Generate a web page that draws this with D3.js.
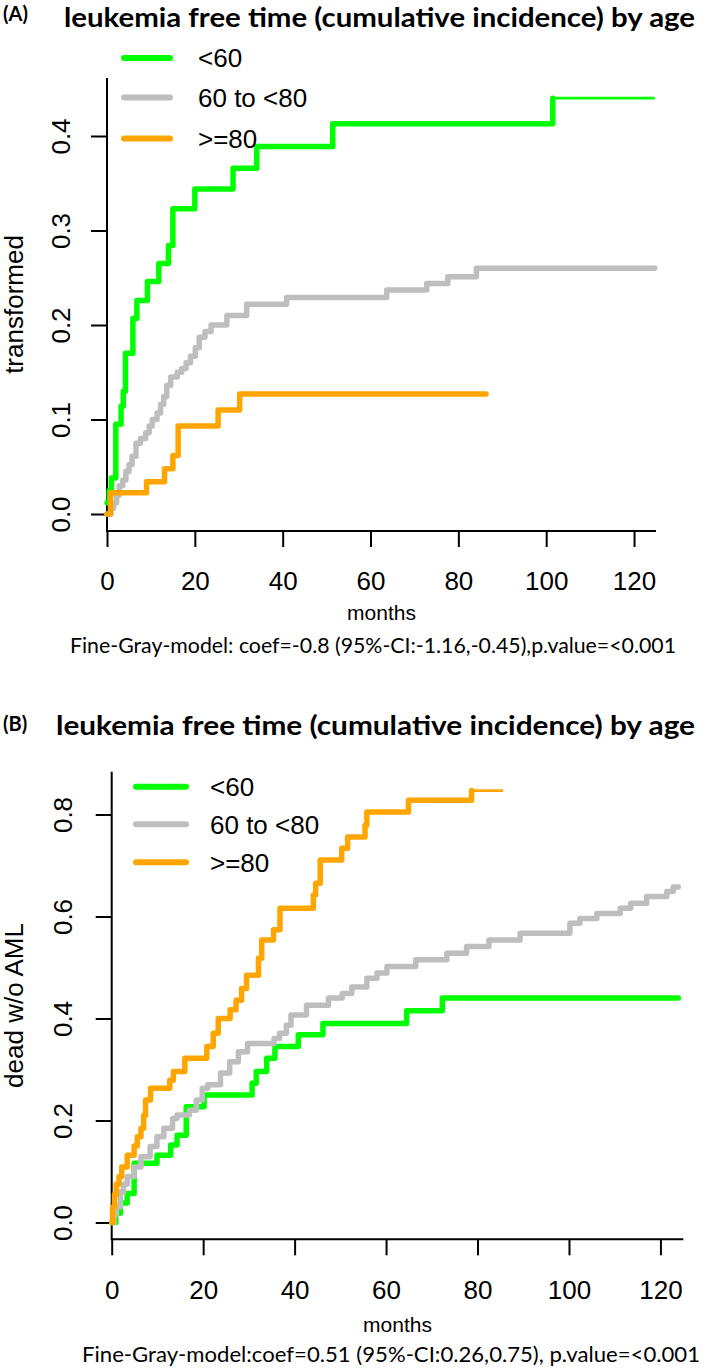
<!DOCTYPE html>
<html><head><meta charset="utf-8">
<script src="https://cdn.jsdelivr.net/npm/d3@7"></script>
<style>html,body{margin:0;padding:0;background:#fff;} svg{display:block}</style>
</head><body><svg id="c" width="709" height="1368"></svg>
<script>
// ---------- data ----------
const groups = ["<60", "60 to <80", ">=80"];
const colors = ["#00ff00", "#bebebe", "#ffa500"];
const xTicks = [0, 20, 40, 60, 80, 100, 120];
const yTicksA = [0, 0.1, 0.2, 0.3, 0.4];
const yTicksB = [0, 0.2, 0.4, 0.6, 0.8];

// Panel A: [month, cumulative incidence] at each step
const stepsA_lt60 = [[0,0.012],[0.5,0.025],[1.0,0.038],[2.0,0.095],[3.2,0.114],[3.7,0.13],[4.2,0.17],[5.9,0.207],[6.8,0.226],[9.2,0.246],[11.8,0.265],[14.0,0.284],[15.0,0.323],[20.0,0.344],[28.7,0.366],[34.1,0.389],[51.4,0.413],[101.5,0.44]];
const stepsA_60to80 = [[0,0],[0.9,0.006],[1.5,0.012],[2.2,0.02],[2.8,0.03],[3.6,0.036],[4.3,0.045],[5.0,0.052],[5.7,0.061],[6.6,0.075],[7.6,0.08],[8.8,0.086],[9.6,0.093],[10.3,0.1],[11.4,0.107],[12.2,0.116],[12.9,0.124],[13.6,0.136],[14.5,0.145],[16.0,0.15],[17.0,0.154],[18.0,0.16],[19.0,0.167],[20.1,0.176],[21.0,0.187],[22.3,0.193],[23.7,0.2],[27.3,0.21],[31.8,0.222],[40.9,0.229],[63.7,0.237],[72.8,0.244],[77.6,0.251],[84.1,0.26]];
const stepsA_ge80 = [[0,0],[0.8,0.0225],[9.0,0.034],[13.1,0.048],[15.0,0.062],[16.2,0.093],[25.3,0.11],[30.2,0.127]];
const endA = [124.7, 124.7, 86.3];
const thinTailA = [true, false, false];

// Panel B
const stepsB_lt60 = [[0,0],[0.9,0.018],[1.9,0.038],[3.4,0.057],[4.9,0.116],[9.9,0.132],[12.9,0.152],[14.3,0.171],[16.3,0.227],[20.2,0.25],[30.7,0.273],[31.6,0.296],[33.9,0.322],[35.7,0.345],[40.8,0.368],[46.2,0.39],[64.5,0.415],[72.3,0.44]];
const stepsB_60to80 = [[0,0],[0.5,0.015],[1.0,0.031],[1.9,0.06],[2.6,0.075],[3.4,0.09],[4.9,0.109],[6.4,0.129],[8.4,0.149],[9.9,0.168],[11.4,0.185],[13.3,0.204],[14.3,0.211],[17.0,0.22],[18.5,0.24],[19.8,0.263],[21.0,0.27],[23.8,0.293],[25.8,0.315],[27.7,0.335],[29.7,0.351],[35.5,0.361],[36.7,0.371],[38.2,0.387],[39.2,0.407],[42.6,0.426],[47.4,0.44],[50.4,0.449],[52.5,0.462],[55.8,0.479],[58.0,0.489],[60.2,0.502],[66.5,0.515],[73.3,0.528],[77.6,0.541],[82.5,0.554],[89.3,0.567],[100.2,0.587],[102.4,0.596],[106.1,0.606],[111.2,0.616],[113.5,0.626],[117,0.639],[121.4,0.649],[122.8,0.658]];
const stepsB_ge80 = [[0,0],[0.2,0.03],[0.6,0.055],[1.0,0.075],[1.6,0.09],[2.2,0.109],[3.4,0.132],[4.9,0.15],[5.6,0.168],[6.4,0.185],[7.0,0.21],[7.4,0.24],[8.5,0.263],[12.7,0.279],[13.5,0.296],[16.0,0.322],[20.8,0.345],[22.2,0.371],[23.3,0.4],[25.9,0.417],[27.2,0.436],[28.4,0.459],[29.5,0.485],[32.1,0.518],[32.8,0.554],[35.4,0.574],[36.8,0.616],[44.1,0.642],[44.6,0.665],[45.6,0.711],[50.3,0.734],[51.6,0.756],[55.4,0.779],[55.8,0.805],[64.9,0.828],[78.7,0.847]];
const endB = [123.9, 123.9, 85.6];
const thinTailB = [false, false, true];

const panelLetters = ["(A)", "(B)"];
const titleText = "leukemia free time (cumulative incidence) by age";
const yTitles = ["transformed", "dead w/o AML"];
const xTitle = "months";
const captions = [
  "Fine-Gray-model: coef=-0.8 (95%-CI:-1.16,-0.45),p.value=<0.001",
  "Fine-Gray-model:coef=0.51 (95%-CI:0.26,0.75), p.value=<0.001"
];

// ---------- layout ----------
const ARIAL = "'Liberation Sans', Arial, Helvetica, sans-serif";
const CALIBRI = "Lato, 'Open Sans', sans-serif";
const svg = d3.select("#c");

const panels = [
  { left:107, right:656, top:78, bottom:531, y0:514, yRef:0.4, yRefPx:136, yTicks:yTicksA,
    series:[stepsA_lt60, stepsA_60to80, stepsA_ge80], ends:endA, thin:thinTailA,
    letterY:21, titleX:64, titleY:27, titleLen:631,
    legX1:124, legX2:170, legTextX:198, legY:[58, 97.5, 138.5],
    capX:70, capY:653, capLen:606, monthsY:620, tickLabY:589.5, yLabX:70, yTitleX:23 },
  { left:111.7, right:683.3, top:771.7, bottom:1239.3, y0:1222.5, yRef:0.8, yRefPx:814.5, yTicks:yTicksB,
    series:[stepsB_lt60, stepsB_60to80, stepsB_ge80], ends:endB, thin:thinTailB,
    letterY:731, titleX:56, titleY:735, titleLen:639,
    legX1:136, legX2:186, legTextX:210, legY:[786.7, 824.3, 862.3],
    capX:82, capY:1362, capLen:618, monthsY:1332, tickLabY:1299.5, yLabX:72, yTitleX:23 }
];

panels.forEach((p, pi) => {
  const g = svg.append("g");
  const x = d3.scaleLinear().domain([0, 125]).range([p.left, p.right]);
  const y = d3.scaleLinear().domain([0, p.yRef]).range([p.y0, p.yRefPx]);

  // titles
  g.append("text").attr("x", 3).attr("y", p.letterY)
    .attr("font-family", CALIBRI).attr("font-weight", "bold").attr("font-size", 20)
    .text(panelLetters[pi]);
  g.append("text").attr("x", p.titleX).attr("y", p.titleY)
    .attr("font-family", CALIBRI).attr("font-weight", "bold").attr("font-size", 27)
    .attr("textLength", p.titleLen).attr("lengthAdjust", "spacingAndGlyphs")
    .text(titleText);

  // L-shaped box
  g.append("path")
    .attr("d", `M${p.left},${p.top}V${p.bottom}H${p.right}`)
    .attr("fill", "none").attr("stroke", "#000").attr("stroke-width", 2);

  // x axis
  const gx = g.append("g").attr("transform", `translate(0,${p.bottom})`)
    .call(d3.axisBottom(x).tickValues(xTicks).tickSize(16).tickFormat(d3.format("d")));
  gx.select(".domain").remove();
  gx.attr("font-family", ARIAL).attr("font-size", 26);
  gx.selectAll(".tick line").attr("stroke", "#000").attr("stroke-width", 2);
  gx.selectAll(".tick text").attr("fill", "#000").attr("y", p.tickLabY - p.bottom).attr("dy", 0);

  // y axis
  const gy = g.append("g").attr("transform", `translate(${p.left},0)`)
    .call(d3.axisLeft(y).tickValues(p.yTicks).tickSize(16).tickFormat(d3.format(".1f")));
  gy.select(".domain").remove();
  gy.attr("font-family", ARIAL).attr("font-size", 26);
  gy.selectAll(".tick line").attr("stroke", "#000").attr("stroke-width", 2);
  gy.selectAll(".tick text").attr("fill", "#000")
    .attr("transform", "rotate(-90)").attr("x", 0).attr("y", -(p.left - p.yLabX))
    .attr("dy", 0).attr("text-anchor", "middle");

  // axis titles
  g.append("text").attr("transform", `translate(${p.yTitleX},${(p.top + p.bottom) / 2}) rotate(-90)`)
    .attr("text-anchor", "middle").attr("font-family", ARIAL).attr("font-size", 26)
    .text(yTitles[pi]);
  g.append("text").attr("x", (p.left + p.right) / 2).attr("y", p.monthsY)
    .attr("text-anchor", "middle").attr("font-family", ARIAL).attr("font-size", 21)
    .text(xTitle);

  // caption
  g.append("text").attr("x", p.capX).attr("y", p.capY)
    .attr("font-family", CALIBRI).attr("font-size", 21)
    .attr("textLength", p.capLen).attr("lengthAdjust", "spacingAndGlyphs")
    .text(captions[pi]);

  // curves
  const line = d3.line().x(d => x(d[0])).y(d => y(d[1])).curve(d3.curveStepAfter);
  p.series.forEach((s, i) => {
    const last = s[s.length - 1];
    const tail = [last, [p.ends[i], last[1]]];
    const main = p.thin[i] ? s : s.concat([tail[1]]);
    g.append("path").attr("d", line(main))
      .attr("fill", "none").attr("stroke", colors[i]).attr("stroke-width", 5.5)
      .attr("stroke-linejoin", "round").attr("stroke-linecap", "round");
    if (p.thin[i]) {
      g.append("path").attr("d", line(tail))
        .attr("fill", "none").attr("stroke", colors[i]).attr("stroke-width", 2.8);
    }
  });

  // legend
  groups.forEach((name, i) => {
    g.append("line").attr("x1", p.legX1).attr("x2", p.legX2)
      .attr("y1", p.legY[i]).attr("y2", p.legY[i])
      .attr("stroke", colors[i]).attr("stroke-width", 6).attr("stroke-linecap", "round");
    g.append("text").attr("x", p.legTextX).attr("y", p.legY[i] + 9.3)
      .attr("font-family", ARIAL).attr("font-size", 26).text(name);
  });
});
</script>
</body></html>
